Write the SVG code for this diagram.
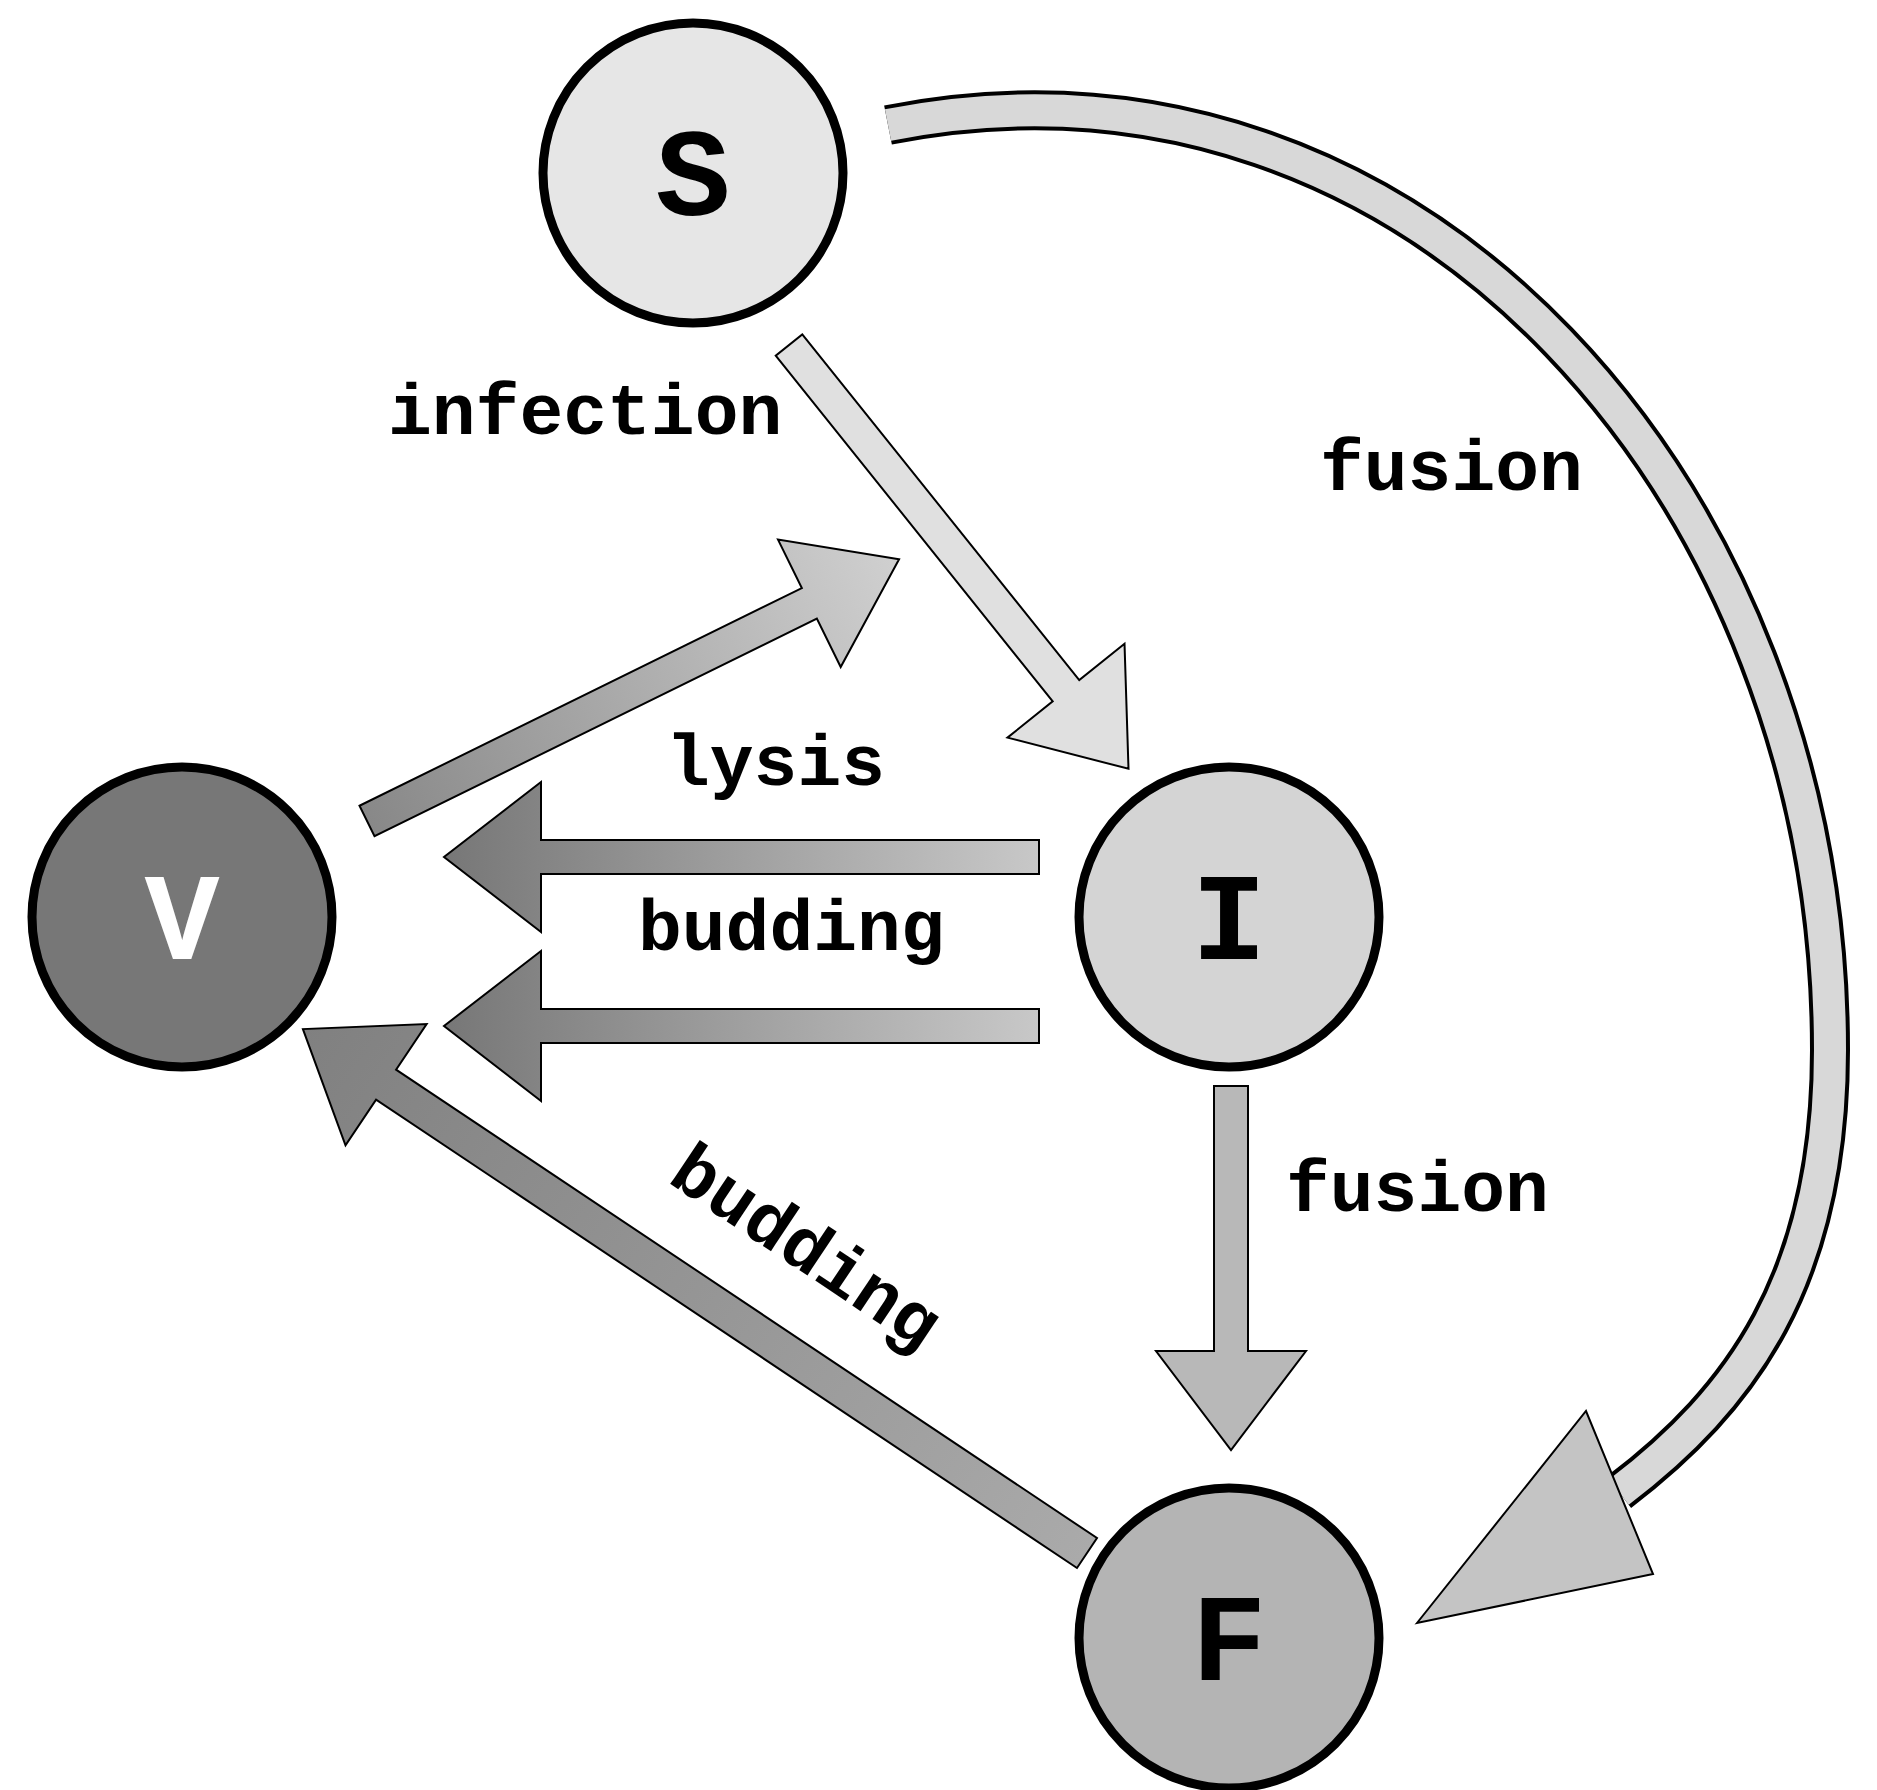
<svg xmlns="http://www.w3.org/2000/svg" width="1877" height="1790" viewBox="0 0 1877 1790">
<style>
.n{stroke:#000;stroke-width:9}
.t{font-family:"Liberation Mono",monospace;font-weight:bold;text-anchor:middle}
.l{font-family:"Liberation Mono",monospace;font-weight:bold;font-size:73px;fill:#000}
.a{stroke:#000;stroke-width:2}
</style>
<defs>
<linearGradient id="gUp" x1="0" y1="0" x2="1" y2="0"><stop offset="0" stop-color="#888"/><stop offset="1" stop-color="#d0d0d0"/></linearGradient>
<linearGradient id="gH" x1="0" y1="0" x2="1" y2="0"><stop offset="0" stop-color="#c8c8c8"/><stop offset="1" stop-color="#777"/></linearGradient>
<linearGradient id="gB" x1="0" y1="0" x2="1" y2="0"><stop offset="0" stop-color="#aaa"/><stop offset="1" stop-color="#808080"/></linearGradient>
</defs>
<rect width="1877" height="1790" fill="#fff"/>
<g id="connectors">
<path d="M888,125 C1420,20 1830,500 1830,1050 C1830,1280 1740,1400 1619,1492" fill="none" stroke="#000" stroke-width="40"/>
<path d="M888,125 C1420,20 1830,500 1830,1050 C1830,1280 1740,1400 1619,1492" fill="none" stroke="#d8d8d8" stroke-width="32"/>
<polygon class="a" points="1417,1623 1586,1411 1653,1574" fill="#c4c4c4"/>
<path class="a" fill="#e0e0e0" transform="translate(789,345) rotate(51.3)" d="M0,-17 L443,-17 L443,-75 L543,0 L443,75 L443,17 L0,17 Z"/>
<path class="a" fill="url(#gUp)" transform="translate(367,821) rotate(-26.2)" d="M0,-17 L493,-17 L493,-71 L593,0 L493,71 L493,17 L0,17 Z"/>
<path class="a" fill="url(#gH)" transform="translate(1039,857) rotate(180)" d="M0,-17 L498,-17 L498,-75 L595,0 L498,75 L498,17 L0,17 Z"/>
<path class="a" fill="url(#gH)" transform="translate(1039,1026) rotate(180)" d="M0,-17 L498,-17 L498,-75 L595,0 L498,75 L498,17 L0,17 Z"/>
<path class="a" fill="url(#gB)" transform="translate(1087,1553) rotate(213.75)" d="M0,-18 L843,-18 L843,-73 L943,0 L843,73 L843,18 L0,18 Z"/>
<path class="a" fill="#b8b8b8" transform="translate(1231,1086) rotate(90)" d="M0,-17 L265,-17 L265,-75 L364,0 L265,75 L265,17 L0,17 Z"/>
</g>
<g id="labels">
<text class="l" x="388" y="434">infection</text>
<text class="l" x="1320" y="490">fusion</text>
<text class="l" x="666" y="785">lysis</text>
<text class="l" x="638" y="950">budding</text>
<text class="l" x="1286" y="1211">fusion</text>
<text class="l" transform="translate(666,1181) rotate(33.75)">budding</text>
</g>
<g id="S"><circle class="n" cx="693" cy="173" r="150" fill="#e6e6e6"/><text class="t" x="693" y="215" font-size="125">S</text></g>
<g id="V"><circle class="n" cx="182" cy="917" r="150" fill="#777"/><text class="t" x="182" y="959" font-size="125" fill="#fff">V</text></g>
<g id="I"><circle class="n" cx="1229" cy="917" r="150" fill="#d4d4d4"/><text class="t" x="1229" y="959" font-size="125">I</text></g>
<g id="F"><circle class="n" cx="1229" cy="1638" r="150" fill="#b4b4b4"/><text class="t" x="1229" y="1680" font-size="125">F</text></g>
</svg>
